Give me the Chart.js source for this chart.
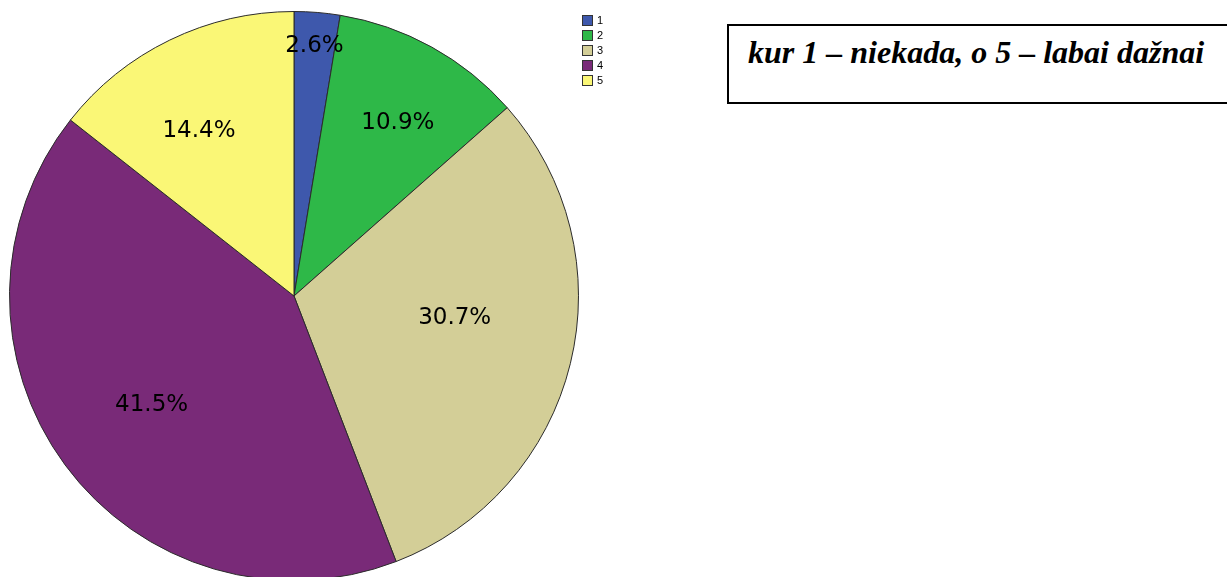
<!DOCTYPE html>
<html lang="lv">
<head>
    <meta charset="UTF-8">
    <title>Pie</title>
    <style>
        html, body { margin: 0; padding: 0; background: #fff; overflow: hidden; width: 1227px; height: 577px; }
        #wrap { position: absolute; left: 0; top: 0; width: 588px; height: 592px; }
        #legend { position: absolute; left: 582px; top: 15px; font-family: "Liberation Sans", Arial, sans-serif; font-size: 11px; color: #000; }
        #legend div { height: 15px; line-height: 11px; display: flex; align-items: flex-start; }
        #legend span.box { display: inline-block; width: 9px; height: 9px; border: 1px solid #333; margin-right: 4px; }
        #note { position: absolute; left: 727px; top: 24px; width: 520px; height: 76px; border: 2px solid #000;
                font-family: "Liberation Serif", "Times New Roman", serif; font-weight: bold; font-style: italic;
                font-size: 32px; }
        #note p { margin: 0; position: absolute; left: 19px; top: 8px; white-space: nowrap; }
    </style>
</head>
<body>
    <div id="wrap"><canvas id="pieChart"></canvas></div>
    <div id="legend"></div>
    <div id="note"><p>kur 1 – niekada, o 5 – labai dažnai</p></div>
    <script src="https://cdn.jsdelivr.net/npm/chart.js@4.4.1/dist/chart.umd.min.js"></script>
    <script>
        const labels = ['1', '2', '3', '4', '5'];
        const percents = [2.6, 10.9, 30.7, 41.5, 14.4];
        const colors = ['#3e58ac', '#2eb848', '#d3ce97', '#792a78', '#faf776'];

        // legend
        const legend = document.getElementById('legend');
        labels.forEach((l, i) => {
            const row = document.createElement('div');
            row.innerHTML = '<span class="box" style="background:' + colors[i] + '"></span>' + l;
            legend.appendChild(row);
        });

        // percent labels inside the slices
        const sliceLabels = {
            id: 'sliceLabels',
            afterDatasetsDraw(chart, args, opts) {
                const ctx = chart.ctx;
                const meta = chart.getDatasetMeta(0);
                ctx.save();
                ctx.font = '23px "DejaVu Sans", Verdana, sans-serif';
                ctx.fillStyle = '#000';
                ctx.textAlign = 'center';
                ctx.textBaseline = 'middle';
                meta.data.forEach((arc, i) => {
                    const p = arc.getProps(['x', 'y', 'startAngle', 'endAngle', 'outerRadius'], true);
                    const mid = (p.startAngle + p.endAngle) / 2;
                    const r = p.outerRadius * opts.radius[i];
                    const shift = opts.angleShift[i] * Math.PI / 180;
                    ctx.fillText(percents[i].toFixed(1) + '%', p.x + Math.cos(mid + shift) * r, p.y + Math.sin(mid + shift) * r);
                });
                ctx.restore();
            }
        };

        new Chart(document.getElementById('pieChart'), {
            type: 'pie',
            data: {
                labels: labels,
                datasets: [{
                    data: percents,
                    backgroundColor: colors,
                    borderColor: '#2b2b2b',
                    borderWidth: 1
                }]
            },
            options: {
                responsive: true,
                maintainAspectRatio: false,
                animation: false,
                layout: { padding: 9 },
                plugins: {
                    legend: { display: false },
                    tooltip: { enabled: false },
                    sliceLabels: { radius: [0.88, 0.71, 0.57, 0.63, 0.67], angleShift: [0, 2, -6, -1, -4] }
                }
            },
            plugins: [sliceLabels]
        });
    </script>
</body>
</html>
